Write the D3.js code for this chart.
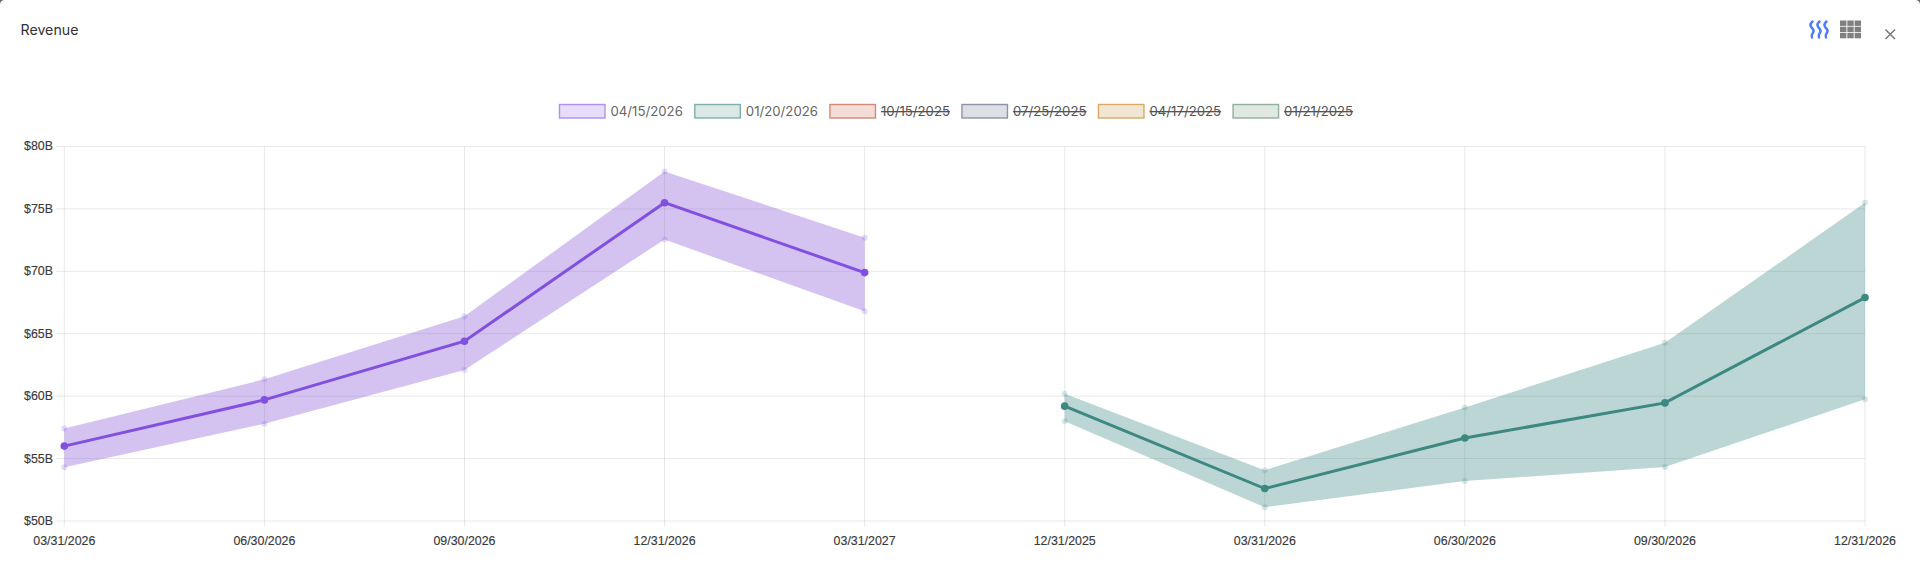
<!DOCTYPE html>
<html>
<head>
<meta charset="utf-8">
<script src="https://cdn.jsdelivr.net/npm/d3@7/dist/d3.min.js"></script>
<style>
html,body{margin:0;padding:0;background:#fff;width:1920px;height:580px;overflow:hidden}
svg{display:block}
text{font-family:"Liberation Sans",Arial,sans-serif}
.ui{font-family:Inter,"Noto Sans",sans-serif}
.grid line{stroke:#000;stroke-opacity:.09}
.grid path{display:none}
.grid text{fill:#3a3a3a;font-size:12.4px;font-family:"Liberation Sans",Arial,sans-serif;stroke:#3a3a3a;stroke-width:.15px}
</style>
</head>
<body>
<svg id="c" width="1920" height="580"></svg>
<script>
const title = "Revenue";
const xLabels = ["03/31/2026","06/30/2026","09/30/2026","12/31/2026","03/31/2027","12/31/2025","03/31/2026","06/30/2026","09/30/2026","12/31/2026"];
const yTicks = [50,55,60,65,70,75,80];

const purpleMean = [56.0,59.7,64.4,75.5,69.9];
const purpleHigh = [57.4,61.35,66.4,78.0,72.7];
const purpleLow  = [54.3,57.8,62.1,72.55,66.8];
const purpleIdx  = [0,1,2,3,4];

const tealMean = [59.2,52.6,56.65,59.46,67.9];
const tealHigh = [60.2,54.07,59.1,64.27,75.5];
const tealLow  = [58.0,51.1,53.2,54.33,59.76];
const tealIdx  = [5,6,7,8,9];

const legendNames  = ["04/15/2026","01/20/2026","10/15/2025","07/25/2025","04/17/2025","01/21/2025"];
const legendHidden = [false,false,true,true,true,true];
const legendFill   = ["#e8dcfb","#dae8e6","#f3ddd6","#dcdfe6","#f2e6d3","#e0e8e2"];
const legendStroke = ["#b08ff0","#7fb0aa","#d08a75","#8d93a8","#d8a965","#93ae9c"];

const svg = d3.select("#c");

// window corners
svg.append("path").attr("d","M0 0H5Q0 0 0 5Z").attr("fill","#666");
svg.append("path").attr("d","M1920 0H1915Q1920 0 1920 5Z").attr("fill","#666");

svg.append("text").attr("class","ui").attr("x",20.5).attr("y",34.5)
  .attr("font-size",14.2).attr("fill","#333").text(title);

// toolbar icons
const waves = svg.append("g").attr("fill","none").attr("stroke","#4f7df5").attr("stroke-width",2.5).attr("stroke-linecap","round");
[1812.5,1819.5,1826.5].forEach(x=>waves.append("path")
  .attr("d",`M${x} 21.5q-3.5 3 -1 6q3.5 3 1 6q-1.5 2 -.5 4`));
const gridIcon = svg.append("g").attr("fill","#808080");
d3.range(3).forEach(r=>d3.range(3).forEach(c=>gridIcon.append("rect")
  .attr("x",1840+c*7.3).attr("y",20.5+r*6.2).attr("width",6.4).attr("height",5.4)));
svg.append("path").attr("d","M1885.5 29.5L1895 39M1895 29.5L1885.5 39")
  .attr("stroke","#777").attr("stroke-width",1.5).attr("fill","none");

// scales
const x = d3.scalePoint().domain(d3.range(xLabels.length)).range([64.3,1865]);
const y = d3.scaleLinear().domain([50,80]).range([521,146.5]);

// axes with grid
const gx = svg.append("g").attr("class","grid").attr("transform","translate(0,526.5)")
  .call(d3.axisBottom(x).offset(0).tickSize(-380).tickFormat(i=>xLabels[i]));
gx.selectAll("text").attr("y",9.5).attr("dy","0.71em");
gx.selectAll("line").filter((d,i)=>i===0).attr("stroke-opacity",.18);

const gy = svg.append("g").attr("class","grid").attr("transform","translate(56,0)")
  .call(d3.axisLeft(y).offset(0).tickValues(yTicks).tickSize(-1809).tickPadding(3).tickFormat(d=>`$${d}B`));
gy.selectAll("line").attr("x2",1809);
gy.selectAll("line").filter(d=>d===50).attr("stroke-opacity",.18);

function series(idx, mean, high, low, color, band, alpha){
  const rows = idx.map((k,i)=>({k,m:mean[i],h:high[i],l:low[i]}));
  const g = svg.append("g");
  g.append("path").datum(rows)
    .attr("d",d3.area().x(d=>x(d.k)).y0(d=>y(d.l)).y1(d=>y(d.h)))
    .attr("fill",band).attr("fill-opacity",alpha);
  ["h","l"].forEach(key=>{
    g.selectAll(null).data(rows).join("circle")
      .attr("cx",d=>x(d.k)).attr("cy",d=>y(d[key])).attr("r",3)
      .attr("fill",color).attr("fill-opacity",.2);
  });
  g.append("path").datum(rows)
    .attr("d",d3.line().x(d=>x(d.k)).y(d=>y(d.m)))
    .attr("fill","none").attr("stroke",color).attr("stroke-width",3);
  g.selectAll(null).data(rows).join("circle")
    .attr("cx",d=>x(d.k)).attr("cy",d=>y(d.m)).attr("r",3.8).attr("fill",color);
}
series(purpleIdx,purpleMean,purpleHigh,purpleLow,"#8250e0","#8a5cd6",.37);
series(tealIdx,tealMean,tealHigh,tealLow,"#3d8880","#3f8a88",.35);

// legend
let lx = 559.5;
legendNames.forEach((name,i)=>{
  svg.append("rect").attr("x",lx).attr("y",104.5).attr("width",45.5).attr("height",13.5)
    .attr("fill",legendFill[i]).attr("stroke",legendStroke[i]).attr("stroke-width",1.4);
  const t = svg.append("text").attr("class","ui").attr("x",lx+51).attr("y",116)
    .attr("font-size",13.2).attr("fill",legendHidden[i]?"#555":"#666")
    .style("text-decoration",legendHidden[i]?"line-through":"none").text(name);
  lx += 51 + t.node().getComputedTextLength() + 12;
});
</script>
</body>
</html>
